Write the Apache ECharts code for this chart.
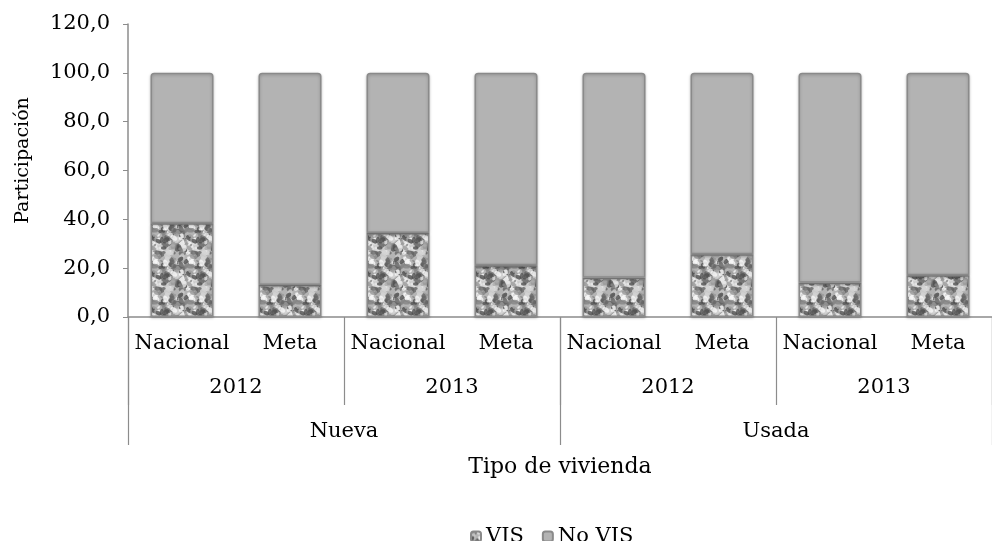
<!DOCTYPE html>
<html><head><meta charset="utf-8">
<script src="https://cdn.jsdelivr.net/npm/echarts@6/dist/echarts.min.js"></script>
<style>html,body{margin:0;padding:0;background:#fff}#c{width:992px;height:541px}</style>
</head><body><div id="c"></div>
<script>
const categories = ['Nacional','Meta','Nacional','Meta','Nacional','Meta','Nacional','Meta'];
const years = ['2012','2013','2012','2013'];
const tipos = ['Nueva','Usada'];
const vis = [38.4, 13.1, 34.4, 21.2, 16.1, 25.7, 14.0, 17.1];
const noVis = [61.6, 86.9, 65.6, 78.8, 83.9, 74.3, 86.0, 82.9];
const yTicks = [0,20,40,60,80,100,120];

// decorative marble-like texture for the VIS fill
function makeTexture(){
  const S = 36;
  const c = document.createElement('canvas'); c.width = S; c.height = S;
  const g = c.getContext('2d');
  g.fillStyle = '#b4b4b4'; g.fillRect(0,0,S,S);
  const shades = ['#e8e8e8','#666666','#d0d0d0','#858585','#f7f7f7','#9a9a9a','#4f4f4f'];
  for (let i=0;i<140;i++){
    const x = (Math.abs(Math.sin(i*12.9898+1.3)*43758.5453)%1)*S;
    const y = (Math.abs(Math.sin(i*78.233+0.7)*12345.678)%1)*S;
    const r = 0.6 + (Math.abs(Math.sin(i*3.7))*1.8);
    g.fillStyle = shades[i%shades.length];
    g.globalAlpha = 0.8;
    for (const dx of [-S,0,S]) for (const dy of [-S,0,S]){
      g.beginPath(); g.ellipse(x+dx,y+dy,r*1.6,r,(i%5)*0.6,0,Math.PI*2); g.fill();
    }
  }
  return c;
}
const tex = makeTexture();
const font = 'DejaVu Serif';
const gray = '#8c8c8c';
const chart = echarts.init(document.getElementById('c'));
chart.setOption({
  animation:false,
  textStyle:{fontFamily:font},
  legend:{top:521, left:465, itemWidth:10, itemHeight:10, itemGap:18,
    textStyle:{fontFamily:font, fontSize:21, color:'#000'},
    data:['VIS','No VIS']},
  grid:{left:128, top:24, right:-12, bottom:224, containLabel:false},
  yAxis:{type:'value', min:0, max:120, interval:20,
    name:'Participación', nameLocation:'middle', nameRotate:90, nameGap:95,
    nameTextStyle:{fontFamily:font, fontSize:19, color:'#000', padding:[0,0,0,20]},
    axisLine:{show:true, lineStyle:{color:gray, width:1.5}},
    axisTick:{show:true, length:5, lineStyle:{color:gray}},
    splitLine:{show:false},
    axisLabel:{fontFamily:font, fontSize:21, color:'#000', margin:18,
      formatter:v=>v.toFixed(1).replace('.',',')}},
  xAxis:[
    {type:'category', data:categories, position:'bottom',
      axisLine:{show:true, lineStyle:{color:gray, width:1.5}},
      axisTick:{show:false},
      axisLabel:{fontFamily:font, fontSize:21, color:'#000', margin:16, interval:0}},
    {type:'category', data:years, position:'bottom', offset:0,
      axisLine:{show:false},
      axisTick:{show:true, length:88, interval:0, lineStyle:{color:gray, width:1.2}},
      axisLabel:{fontFamily:font, fontSize:21, color:'#000', margin:60, interval:0}},
    {type:'category', data:tipos, position:'bottom', offset:0,
      axisLine:{show:false},
      axisTick:{show:true, length:128, interval:0, lineStyle:{color:gray, width:1.2}},
      axisLabel:{fontFamily:font, fontSize:21, color:'#000', margin:104, interval:0},
      name:'Tipo de vivienda', nameLocation:'middle', nameGap:139,
      nameTextStyle:{fontFamily:font, fontSize:22, color:'#000'}}
  ],
  series:[
    {name:'VIS', type:'bar', stack:'t', xAxisIndex:0, data:vis, barWidth:63,
      itemStyle:{color:{image:tex, repeat:'repeat'}, borderColor:'#8a8a8a', borderWidth:1.5,
        shadowBlur:3, shadowColor:'rgba(0,0,0,0.25)', shadowOffsetY:1}},
    {name:'No VIS', type:'bar', stack:'t', xAxisIndex:0, data:noVis, barWidth:63,
      itemStyle:{color:'#b3b3b3', borderColor:'#8a8a8a', borderWidth:1.5, borderRadius:[3,3,0,0],
        shadowBlur:3, shadowColor:'rgba(0,0,0,0.25)', shadowOffsetY:1}}
  ]
});
</script></body></html>
